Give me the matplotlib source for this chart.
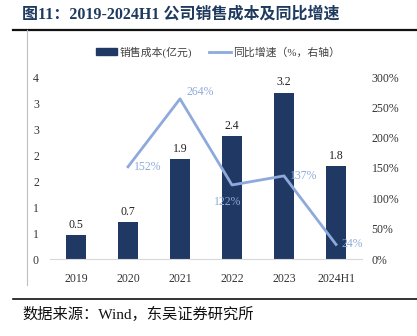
import matplotlib
matplotlib.use("Agg")
import matplotlib.pyplot as plt
from matplotlib.lines import Line2D
from matplotlib.patches import Rectangle

categories = ["2019", "2020", "2021", "2022", "2023", "2024H1"]
cost = [0.46, 0.71, 1.92, 2.36, 3.20, 1.79]
cost_labels = ["0.5", "0.7", "1.9", "2.4", "3.2", "1.8"]
growth_cats = ["2020", "2021", "2022", "2023", "2024H1"]
growth = [152, 264, 122, 137, 24]
left_ticks = [0, 0.5, 1.0, 1.5, 2.0, 2.5, 3.0, 3.5]
left_tick_labels = ["0", "1", "1", "2", "2", "3", "3", "4"]
right_ticks = [0, 50, 100, 150, 200, 250, 300]

SERIF = ["Liberation Serif", "Noto Sans CJK SC"]
plt.rcParams['font.family'] = SERIF

W, H = 417, 336
fig = plt.figure(figsize=(W / 100, H / 100), dpi=100)

bar_color = "#203864"
line_color = "#8EA9DB"
title_color = "#1F3A5F"

ax = fig.add_axes([50 / W, 1 - 259 / H, (362 - 50) / W, (259 - 77) / H])
x = list(range(len(categories)))
ax.bar(x, cost, width=0.38, color=bar_color, zorder=2)
ax.set_xlim(-0.5, len(categories) - 0.5)
ax.set_ylim(0, 3.5)
ax.set_yticks(left_ticks)
ax.set_yticklabels(left_tick_labels)
ax.set_xticks(x)
ax.set_xticklabels(categories)
for s in ["top", "right", "left"]:
    ax.spines[s].set_visible(False)
ax.spines["bottom"].set_color("#D9D9D9")
ax.tick_params(axis="x", length=0, labelsize=8.5, colors="#333333", pad=10)
ax.tick_params(axis="y", length=0, labelsize=8.5, colors="#333333", pad=8)
for xi, v, lab in zip(x, cost, cost_labels):
    ax.text(xi, v + 0.08, lab, ha="center", va="bottom", fontsize=8.5, color="#222222")

ax2 = ax.twinx()
gx = [categories.index(c) for c in growth_cats]
ax2.plot(gx, growth, color=line_color, lw=2, zorder=3)
ax2.set_ylim(0, 300)
ax2.set_yticks(right_ticks)
ax2.set_yticklabels([f"{t}%" for t in right_ticks])
for s in ["top", "right", "left", "bottom"]:
    ax2.spines[s].set_visible(False)
ax2.tick_params(length=0, labelsize=8.5, colors="#333333", pad=7)

offsets = [(4, 0, "left", "center"), (5, 5, "left", "center"), (-3, -12, "center", "center"),
           (4, 0, "left", "center"), (4, 0, "left", "center")]
for xi, v, (dx, dy, ha, va) in zip(gx, growth, offsets):
    ax2.annotate(f"{v}%", (xi, v), xytext=(dx, dy), textcoords="offset points",
                 ha=ha, va=va, fontsize=8.5, color=line_color)

handles = [Rectangle((0, 0), 1, 0.45, color=bar_color),
           Line2D([0], [0], color=line_color, lw=2)]
fig.legend(handles, ["销售成本(亿元)", "同比增速（%，右轴）"],
           loc="center", bbox_to_anchor=(218 / W, 1 - 52 / H), ncol=2, frameon=False,
           fontsize=7.8, handlelength=2.0, handleheight=0.6, columnspacing=1.6,
           handletextpad=0.2, labelcolor="#404040")

fig.text(22 / W, 1 - 15 / H, "图11：2019-2024H1 公司销售成本及同比增速", fontsize=11.5,
         fontweight="bold", color=title_color, ha="left", va="center")
fig.add_artist(Line2D([13 / W, 1], [1 - 29.5 / H] * 2, color="#111111", lw=1.6))
fig.add_artist(Line2D([27 / W] * 2, [1 - 30 / H, 1 - 285 / H], color="#BFBFBF", lw=0.8))
fig.add_artist(Line2D([13 / W, 1], [1 - 299 / H] * 2, color="#111111", lw=1.2))
fig.text(22 / W, 1 - 314 / H, "数据来源：Wind，东吴证券研究所", fontsize=11,
         color="#111111", ha="left", va="center")

fig.savefig("out.png", dpi=100)
